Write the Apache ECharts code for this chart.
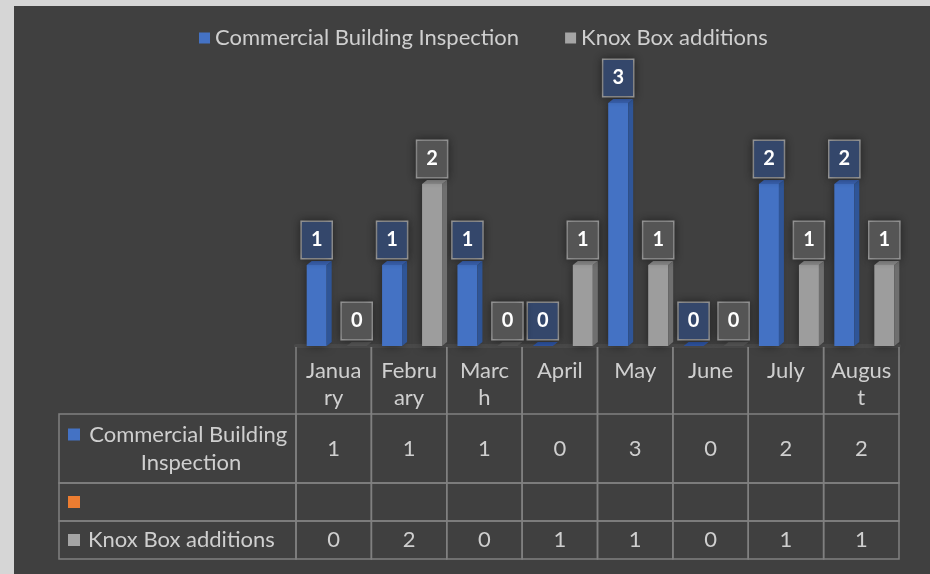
<!DOCTYPE html>
<html>
<head>
<meta charset="utf-8"/>
<title>Inspections</title>
<style>
*{margin:0;padding:0;}
html,body{width:930px;height:574px;overflow:hidden;background:#d6d6d6;}
#main{width:930px;height:574px;}
</style>
<script src="https://cdn.jsdelivr.net/npm/echarts@6/dist/echarts.min.js"></script>
</head>
<body>
<div id="main"></div>
<script>
var months = ['January','February','March','April','May','June','July','August'];
var monthLabels = ['Janua\nry','Febru\nary','Marc\nh','April','May','June','July','Augus\nt'];
var inspections = [1,1,1,0,3,0,2,2];
var knoxBox = [0,2,0,1,1,0,1,1];
var seriesNames = ['Commercial Building Inspection','','Knox Box additions'];
var seriesColors = ['#4472c4','#ed7d31','#a5a5a5'];
var tableRows = [inspections, [], knoxBox];

var FONT = 'Lato';
var FS = 22;
var TXT = '#cfcfcf';
var LINE = '#808080';
var BAR_W = 20, DX = 5, DY = 4;
// table row edges in px below the plot floor
var ROW_EDGES = [0, 67, 136, 174, 212];
var LABEL_COL_W = 237;

var measure = document.createElement('canvas').getContext('2d');

function barRenderer(offset, front, side, top, zero, labelFill){
	return function(params, api){
		var i = api.value(0), v = api.value(1);
		var p = api.coord([i, v]), b = api.coord([i, 0]);
		var x0 = p[0] + offset, x1 = x0 + BAR_W, yt = p[1], yb = b[1];
		var kids = [];
		if(yb - yt > 0.5){
			kids.push({type:'rect', shape:{x:x0, y:yt, width:BAR_W, height:yb-yt},
				style:{fill:front, shadowBlur:10, shadowColor:'rgba(0,0,0,0.5)'}});
			kids.push({type:'polygon', shape:{points:[[x1,yt],[x1+DX,yt-DY],[x1+DX,yb-DY],[x1,yb]]},
				style:{fill:side}});
		}
		kids.push({type:'polygon', shape:{points:[[x0,yt],[x0+DX,yt-DY],[x1+DX,yt-DY],[x1,yt]]},
			style:{fill: v === 0 ? zero : top}});
		kids.push({type:'text', x:x0 + BAR_W/2, y:yt - DY - 3,
			style:{text:String(v), fill:'#ffffff', fontFamily:FONT, fontWeight:'bold', fontSize:20,
				align:'center', verticalAlign:'bottom', backgroundColor:labelFill,
				borderColor:'#a0a0a0', borderWidth:1.5, padding:[5,9], lineHeight:26,
				shadowBlur:8, shadowColor:'rgba(0,0,0,0.4)'}});
		return {type:'group', children:kids};
	};
}

function renderCell(params, api){
	var col = api.value(0), row = api.value(1);
	var a = api.coord([col, ROW_EDGES[row]]), b = api.coord([col, ROW_EDGES[row+1]]);
	var w = api.size([1, 0])[0];
	var x0 = a[0] - w/2, x1 = a[0] + w/2, y0 = a[1], y1 = b[1];
	var kids = [];
	var ls = {stroke:LINE, lineWidth:1.5};
	if(row === 0){
		kids.push({type:'line', shape:{x1:x0, y1:y0, x2:x0, y2:y1}, style:ls});
		kids.push({type:'line', shape:{x1:x1, y1:y0, x2:x1, y2:y1}, style:ls});
		kids.push({type:'text', x:a[0], y:y0 + 10,
			style:{text:monthLabels[col], fill:TXT, fontFamily:FONT, fontSize:FS, lineHeight:27,
				align:'center', verticalAlign:'top'}});
	}else{
		kids.push({type:'rect', shape:{x:x0, y:y0, width:w, height:y1-y0}, style:{fill:null, stroke:LINE, lineWidth:1.5}});
		var val = tableRows[row-1][col];
		if(val !== undefined){
			kids.push({type:'text', x:a[0], y:(y0+y1)/2,
				style:{text:String(val), fill:TXT, fontFamily:FONT, fontSize:FS,
					align:'center', verticalAlign:'middle'}});
		}
	}
	return {type:'group', children:kids};
}

function renderRowHead(params, api){
	var row = api.value(1);
	var a = api.coord([0, ROW_EDGES[row]]), b = api.coord([0, ROW_EDGES[row+1]]);
	var w = api.size([1, 0])[0];
	var right = a[0] - w/2, left = right - LABEL_COL_W, y0 = a[1], y1 = b[1], mid = (y0+y1)/2;
	var name = seriesNames[row-1];
	var tx = left + 29, avail = right - tx - 2;
	measure.font = FS + 'px ' + FONT;
	var wrap = measure.measureText(name).width > avail;
	var firstLine = wrap ? mid - 14 : mid;
	var kids = [];
	kids.push({type:'rect', shape:{x:left, y:y0, width:LABEL_COL_W, height:y1-y0}, style:{fill:null, stroke:LINE, lineWidth:1.5}});
	kids.push({type:'rect', shape:{x:left + 9, y:firstLine - 6, width:12, height:12}, style:{fill:seriesColors[row-1]}});
	if(name){
		kids.push({type:'text', x: wrap ? tx + avail/2 : tx, y:mid,
			style:{text:name, fill:TXT, fontFamily:FONT, fontSize:FS, lineHeight:28,
				width: wrap ? avail : undefined, overflow: wrap ? 'break' : 'none',
				align: wrap ? 'center' : 'left', verticalAlign:'middle'}});
	}
	return {type:'group', children:kids};
}

var cellData = [];
for(var c = 0; c < months.length; c++){
	for(var r = 0; r < 4; r++){
		cellData.push([c, r]);
	}
}

var chart = echarts.init(document.getElementById('main'));
chart.setOption({
	backgroundColor:'#d6d6d6',
	animation:false,
	graphic:[{type:'rect', z:-10, shape:{x:14, y:6, width:916, height:568}, style:{fill:'#404040'}}],
	legend:{
		left:194, top:22, icon:'rect', itemWidth:11, itemHeight:11, itemGap:46,
		data:[seriesNames[0], seriesNames[2]],
		textStyle:{color:TXT, fontFamily:FONT, fontSize:FS}
	},
	grid:[
		{left:296, right:31, top:22, bottom:228},
		{left:296, right:31, top:347, bottom:15}
	],
	xAxis:[
		{type:'category', gridIndex:0, data:months, axisLine:{show:true, lineStyle:{color:'#4a4a4a', width:4}},
			axisTick:{show:false}, axisLabel:{show:false}},
		{type:'category', gridIndex:1, data:months, show:false}
	],
	yAxis:[
		{type:'value', gridIndex:0, min:0, max:4, show:false},
		{type:'value', gridIndex:1, min:0, max:212, inverse:true, show:false}
	],
	series:[
		{name:seriesNames[0], type:'custom', xAxisIndex:0, yAxisIndex:0, itemStyle:{color:seriesColors[0]},
			encode:{x:0, y:1},
			data:inspections.map(function(v, i){ return [i, v]; }),
			renderItem:barRenderer(-27, '#4472c4', '#2f5597', '#3a62b0', '#2f55a3', '#34476b')},
		{name:seriesNames[2], type:'custom', xAxisIndex:0, yAxisIndex:0, itemStyle:{color:seriesColors[2]},
			encode:{x:0, y:1},
			data:knoxBox.map(function(v, i){ return [i, v]; }),
			renderItem:barRenderer(13, '#9d9d9d', '#6f6f6f', '#8a8a8a', '#565656', '#555555')},
		{type:'custom', xAxisIndex:1, yAxisIndex:1, encode:{x:0, y:1}, silent:true,
			data:cellData, renderItem:renderCell},
		{type:'custom', xAxisIndex:1, yAxisIndex:1, encode:{x:0, y:1}, silent:true,
			data:[[0,1],[0,2],[0,3]], renderItem:renderRowHead}
	]
});
</script>
</body>
</html>
